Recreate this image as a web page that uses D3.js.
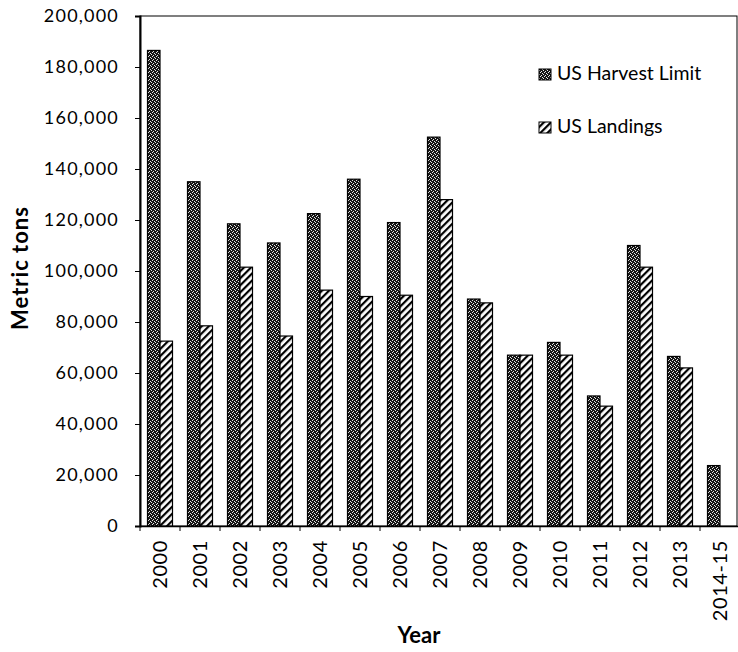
<!DOCTYPE html>
<html><head><meta charset="utf-8">
<script src="https://cdn.jsdelivr.net/npm/d3@7"></script>
<style>
body{margin:0;background:#fff}
svg{display:block}
text{font-family:Lato,"Open Sans",sans-serif;fill:#000}
</style></head><body>
<svg id="chart" width="738" height="652"></svg>
<script>
const categories = ["2000","2001","2002","2003","2004","2005","2006","2007","2008","2009","2010","2011","2012","2013","2014-15"];
const seriesNames = ["US Harvest Limit","US Landings"];
const harvestLimit = [186500,135000,118500,111000,122500,136000,119000,152500,89000,67000,72000,51000,110000,66500,23700];
const landings = [72500,78500,101500,74500,92500,90000,90500,128000,87500,67000,67000,47000,101500,62000,null];
const yTicks = [0,20000,40000,60000,80000,100000,120000,140000,160000,180000,200000];
const yLabel = "Metric tons";
const xLabel = "Year";

const svg = d3.select("#chart");
const W = 738, H = 652;
const plot = {left:140, right:740, top:16, bottom:526};

const x = d3.scaleBand().domain(categories).range([plot.left, plot.right]).padding(0);
const x1 = d3.scaleBand().domain(seriesNames).range([0, x.bandwidth()]).paddingInner(0).paddingOuter(0.6);
const y = d3.scaleLinear().domain([0, 200000]).range([plot.bottom, plot.top]);

// patterns
const defs = svg.append("defs");
const ph = defs.append("pattern").attr("id","pHarvest").attr("patternUnits","userSpaceOnUse")
  .attr("width",4).attr("height",4);
ph.append("rect").attr("width",4).attr("height",4).attr("fill","#161616");
[[0,0],[2,1],[1,3],[3,2]].forEach(([a,b]) =>
  ph.append("rect").attr("x",a).attr("y",b).attr("width",1).attr("height",1).attr("fill","#e6e6e6"));
const pl = defs.append("pattern").attr("id","pLand").attr("patternUnits","userSpaceOnUse")
  .attr("width",5).attr("height",5).attr("patternTransform","rotate(45)");
pl.append("rect").attr("width",5).attr("height",5).attr("fill","#fff");
pl.append("rect").attr("width",2.2).attr("height",5).attr("fill","#000");

const fills = {"US Harvest Limit":"url(#pHarvest)","US Landings":"url(#pLand)"};

// frame
svg.append("rect").attr("x",plot.left).attr("y",plot.top)
  .attr("width",W - 1 - plot.left).attr("height",plot.bottom - plot.top)
  .attr("fill","none").attr("stroke","#000").attr("stroke-width",1);

// bars
const rows = categories.map((c,i) => ({cat:c, vals:[
  {s:"US Harvest Limit", v:harvestLimit[i]},
  {s:"US Landings", v:landings[i]}]}));
const grp = svg.append("g").selectAll("g").data(rows).join("g")
  .attr("transform", d => `translate(${x(d.cat)},0)`);
grp.selectAll("rect").data(d => d.vals.filter(e => e.v != null)).join("rect")
  .attr("x", d => x1(d.s))
  .attr("width", x1.bandwidth())
  .attr("y", d => y(d.v))
  .attr("height", d => y(0) - y(d.v))
  .attr("fill", d => fills[d.s])
  .attr("stroke","#000").attr("stroke-width",1.2);

// y axis
const ya = svg.append("g").attr("transform",`translate(${plot.left},0)`)
  .call(d3.axisLeft(y).tickValues(yTicks).tickFormat(d3.format(",")).tickSize(5).tickPadding(16));
ya.select(".domain").attr("stroke","#000").attr("stroke-width",2);
ya.selectAll(".tick line").attr("stroke","#000");
ya.selectAll(".tick text").style("font-size","18px").style("letter-spacing","1.2px")
  .style("font-family","Lato,sans-serif");

// x axis
const xa = svg.append("g").attr("transform",`translate(0,${plot.bottom})`)
  .call(d3.axisBottom(x).tickSize(0));
xa.select(".domain").attr("stroke","#000").attr("stroke-width",1.5);
xa.selectAll(".tick text")
  .attr("transform","rotate(-90)")
  .attr("x",-14).attr("y",0).attr("dy","0.36em")
  .attr("text-anchor","end")
  .style("font-size","20px").style("letter-spacing","0.6px")
  .style("font-family","Lato,sans-serif");
xa.selectAll(".boundary").data(d3.range(categories.length + 1)).join("line")
  .attr("class","boundary")
  .attr("x1", i => x.range()[0] + i * x.step())
  .attr("x2", i => x.range()[0] + i * x.step())
  .attr("y1",0).attr("y2",5).attr("stroke","#000");

// axis titles
svg.append("text").attr("transform","translate(28,268) rotate(-90)")
  .attr("text-anchor","middle").style("font-weight","bold").style("font-size","22px")
  .style("letter-spacing","1px").text(yLabel);
svg.append("text").attr("x",419).attr("y",643).attr("text-anchor","middle")
  .style("font-weight","bold").style("font-size","22px").text(xLabel);

// legend
const lg = svg.append("g");
const legendRows = [{s:"US Harvest Limit", y:69}, {s:"US Landings", y:122}];
legendRows.forEach(r => {
  lg.append("rect").attr("x",539).attr("y",r.y).attr("width",12).attr("height",11)
    .attr("fill",fills[r.s]).attr("stroke","#000").attr("stroke-width",1);
  lg.append("text").attr("x",557).attr("y",r.y + 11).style("font-size","19.5px").text(r.s);
});
</script>
</body></html>
